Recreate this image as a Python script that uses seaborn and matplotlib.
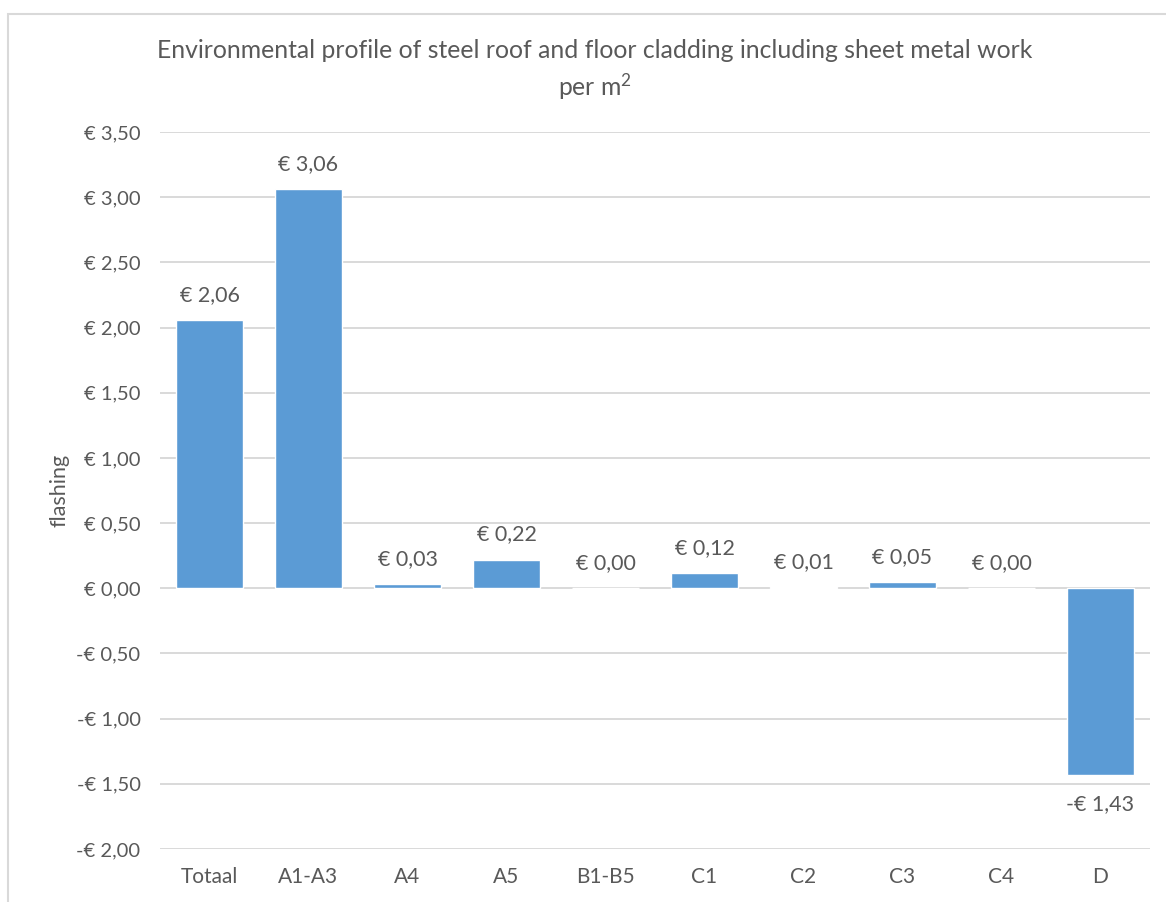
import matplotlib
matplotlib.use("Agg")
import matplotlib.pyplot as plt
import seaborn as sns
import pandas as pd
from matplotlib.patches import Rectangle

categories = ["Totaal", "A1-A3", "A4", "A5", "B1-B5", "C1", "C2", "C3", "C4", "D"]
values = [2.06, 3.06, 0.03, 0.22, 0.00, 0.12, 0.01, 0.05, 0.00, -1.43]
yticks = [-2.0, -1.5, -1.0, -0.5, 0.0, 0.5, 1.0, 1.5, 2.0, 2.5, 3.0, 3.5]

TXT = "#595959"
BAR = "#5B9BD5"
GRID = "#D9D9D9"

sns.set_theme(style="white")
plt.rcParams["font.family"] = ["Lato", "DejaVu Sans"]
plt.rcParams["mathtext.fontset"] = "custom"
plt.rcParams["mathtext.rm"] = "Lato"
plt.rcParams["mathtext.it"] = "Lato"
plt.rcParams["mathtext.default"] = "rm"

W, H = 1166, 902
fig = plt.figure(figsize=(W / 100, H / 100), dpi=100)
fig.patch.set_facecolor("white")

left, right, top, bottom = 160, 1150, 132, 849
ax = fig.add_axes([left / W, 1 - bottom / H, (right - left) / W, (bottom - top) / H])

df = pd.DataFrame({"cat": categories, "val": values})
sns.barplot(data=df, x="cat", y="val", color=BAR, saturation=1, width=0.67, ax=ax, zorder=3)

ax.set_ylim(-2.0, 3.5)
ax.set_xlim(-0.5, len(categories) - 0.5)
ax.set_yticks(yticks)

def euro(v):
    s = f"{abs(v):.2f}".replace(".", ",")
    return ("-€ " if v < 0 else "€ ") + s

ax.set_yticklabels([euro(v) for v in yticks])
ax.tick_params(axis="both", length=0, colors=TXT)
ax.tick_params(axis="y", pad=14, labelsize=14.5)
ax.tick_params(axis="x", pad=13, labelsize=15)
for s in ax.spines.values():
    s.set_visible(False)
ax.grid(axis="y", color=GRID, linewidth=1.4, zorder=0)
ax.set_axisbelow(True)
ax.set_xlabel("")
ax.set_ylabel("")
fig.text(59 / W, 1 - 490 / H, "flashing", rotation=90, ha="center", va="center",
         fontsize=15.5, color=TXT)

for i, v in enumerate(values):
    off = 18 if v >= 0 else -21
    ax.annotate(euro(v), (i, v), xytext=(0, off), textcoords="offset points",
                ha="center", va="center", fontsize=15.5, color=TXT)

fig.text(595 / W, 1 - 51 / H, "Environmental profile of steel roof and floor cladding including sheet metal work",
         ha="center", va="center", fontsize=17.8, color=TXT)
fig.text(595 / W, 1 - 87 / H, r"per m$^{2}$", ha="center", va="center", fontsize=17.8, color=TXT)

fig.patches.append(Rectangle((8 / W, -0.1), 1.2, 1.1 - 14 / H, transform=fig.transFigure,
                             fill=False, edgecolor=GRID, linewidth=1.5, figure=fig))

fig.savefig("out.png", dpi=100, facecolor="white")
